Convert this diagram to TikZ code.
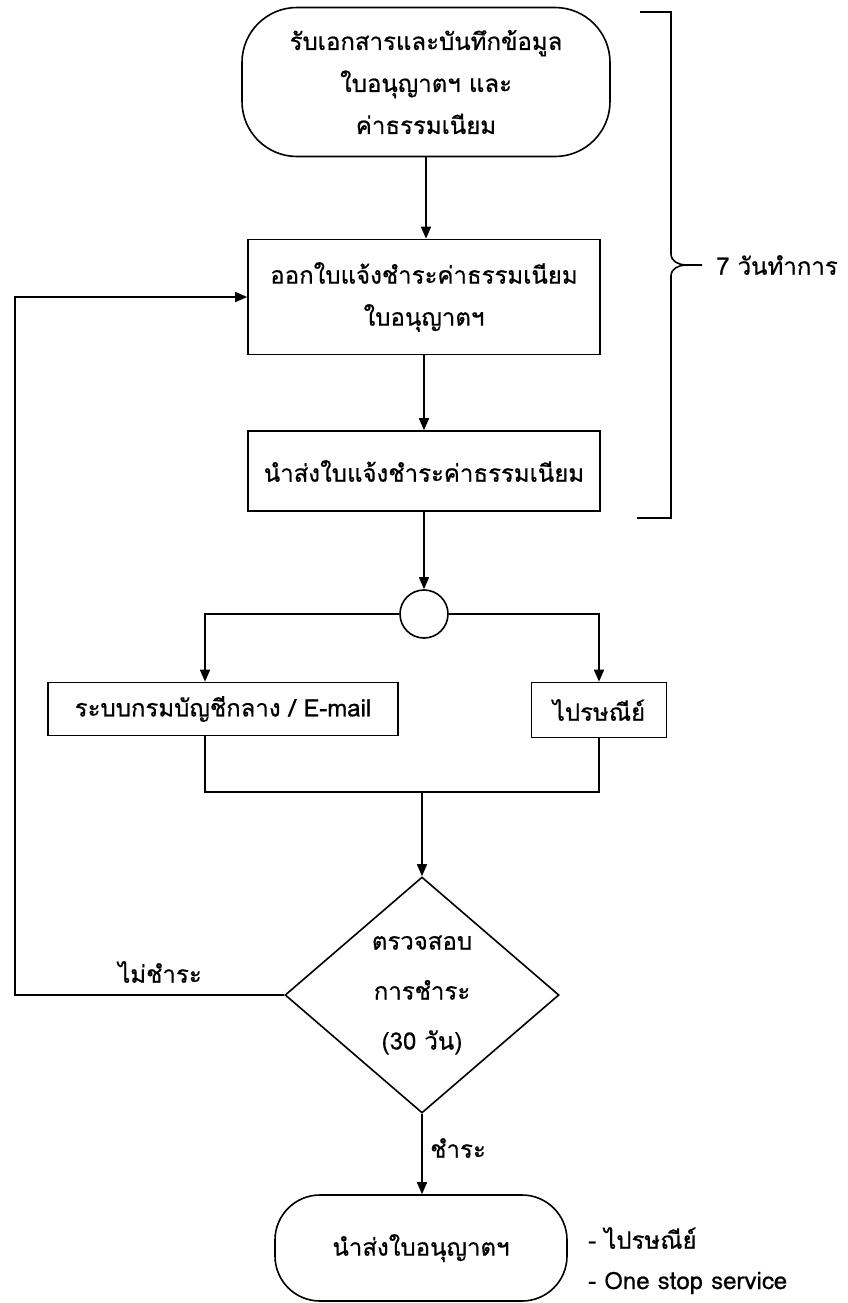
\documentclass[tikz,border=0pt]{standalone}
\usepackage{fontspec}
\usetikzlibrary{shapes.geometric,arrows.meta,calc}
\setmainfont[Script=Thai,FakeBold=0.6]{Loma}
\newfontfamily\thaifont[Script=Thai,FakeBold=0.6]{Loma}
\begin{document}
\begin{tikzpicture}[x=1pt,y=-1pt,
  every node/.style={font=\thaifont\fontsize{24}{42}\selectfont, align=center, inner sep=0pt},
  proc/.style={draw, line width=1.6pt, rectangle},
  term/.style={draw, line width=1.6pt, rectangle, rounded corners=55pt},
  term2/.style={draw, line width=1.6pt, rectangle, rounded corners=45pt},
  dec/.style={draw, line width=1.6pt, diamond, shape aspect=1.16},
  conn/.style={draw, line width=1.6pt, circle},
  line/.style={line width=1.6pt},
  arr/.style={line width=1.6pt, -{Triangle[length=12pt,width=10pt]}},
  lbl/.style={}
]
\useasboundingbox (0,0) rectangle (848,1303);
\fill[white] (0,0) rectangle (848,1303);

\node[term, minimum width=368pt, minimum height=149pt] (t1) at (426,82)
  {รับเอกสารและบันทึกข้อมูล\\ใบอนุญาตฯ และ\\ค่าธรรมเนียม};
\node[proc, minimum width=352pt, minimum height=115pt] (b2) at (424,297)
  {ออกใบแจ้งชำระค่าธรรมเนียม\\ใบอนุญาตฯ};
\node[proc, minimum width=352pt, minimum height=80pt] (b3) at (424,471)
  {นำส่งใบแจ้งชำระค่าธรรมเนียม};
\node[conn, minimum size=48pt] (c) at (424,614) {};
\node[proc, minimum width=350pt, minimum height=53pt] (b4) at (223,709)
  {ระบบกรมบัญชีกลาง / E-mail};
\node[proc, minimum width=135pt, minimum height=55pt] (b5) at (599,710)
  {ไปรษณีย์};
\node[dec, minimum width=274pt, minimum height=236pt, font=\thaifont\fontsize{24}{50}\selectfont] (d) at (422,995)
  {ตรวจสอบ\\การชำระ\\(30 วัน)};
\node[term2, minimum width=292pt, minimum height=106pt] (t2) at (421,1248)
  {นำส่งใบอนุญาตฯ};

\coordinate (jl) at (205,792);
\coordinate (jr) at (599,792);
\coordinate (lp) at (15,995);

\draw[arr] (t1.south) -- (t1.south |- b2.north);
\draw[arr] (b2.south) -- (b3.north);
\draw[arr] (b3.south) -- (c.north);
\draw[arr] (c.west) -| (b4.north -| jl);
\draw[arr] (c.east) -| (b5.north);
\draw[line] (b4.south -| jl) -- (jl) -- (jr) -- (b5.south);
\draw[arr] (d.north |- jl) -- (d.north);
\draw[arr] (d.west) -- (lp) |- (b2.west);
\draw[arr] (d.south) -- (d.south |- t2.north);

\node[lbl] (n1) at (160,972) {ไม่ชำระ};
\node[lbl] (n2) at (458,1148) {ชำระ};

\node[lbl, anchor=west] (r1) at (588,1238) {- ไปรษณีย์};
\node[lbl, anchor=west] (r2) at (588,1283) {- One stop service};

% brace
\draw[line] (640,12) -- (671,12) -- (671,254) to[out=-90,in=180] (686,265) -- (702,265);
\draw[line] (686,265) to[out=180,in=90] (671,276) -- (671,518) -- (637,518);
\node[lbl, anchor=west] (r3) at (716,265) {7 วันทำการ};
\end{tikzpicture}
\end{document}
